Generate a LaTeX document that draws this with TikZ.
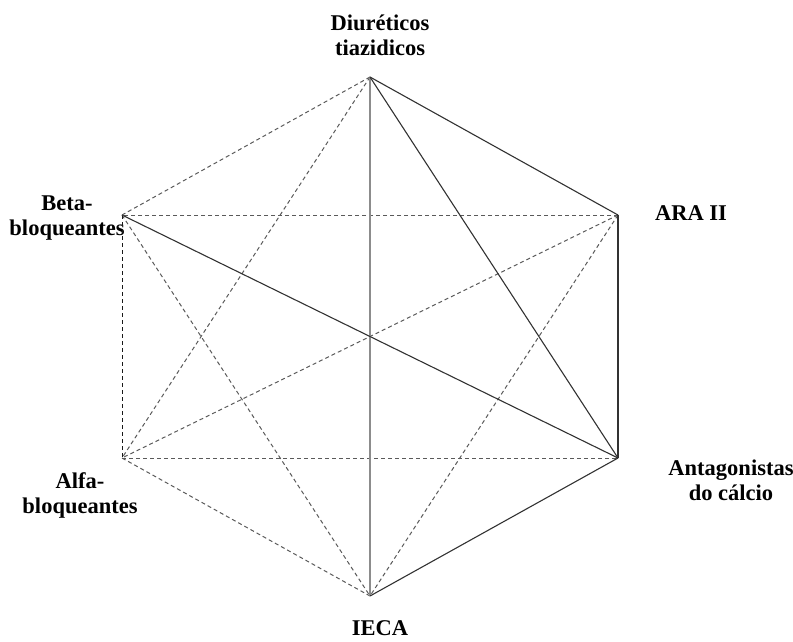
\documentclass[tikz,border=0pt]{standalone}
\usepackage{fontspec}
\setmainfont{Liberation Serif}
\usepackage{tikz}
\definecolor{solidlink}{RGB}{50,50,50}
\definecolor{dashlink}{RGB}{90,90,90}
\definecolor{axislink}{RGB}{140,140,140}
\tikzset{
  drug/.style={font=\fontsize{22.5}{25}\selectfont\bfseries,align=center,inner sep=0pt},
  strong/.style={solidlink,line width=1.1pt},
  weak/.style={dashlink,line width=1pt,dash pattern=on 4pt off 3pt},
}

\begin{document}
\begin{tikzpicture}[x=1pt,y=-1pt]
    \useasboundingbox (0,0) rectangle (793,641);
    % corners of the hexagon
    \coordinate (diu) at (370,77);
    \coordinate (ara) at (618,215);
    \coordinate (antag) at (618,458);
    \coordinate (ieca) at (370,596);
    \coordinate (alfa) at (122,458);
    \coordinate (beta) at (122,215);
    % labels
    \node[drug] (diulab) at (380,35) {Diuréticos\\tiazidicos};
    \node[drug] (aralab) at (691,213) {ARA II};
    \node[drug] (antaglab) at (731,480) {Antagonistas\\do cálcio};
    \node[drug] (iecalab) at (380,628) {IECA};
    \node[drug] (alfalab) at (80,495) {Alfa-\\bloqueantes};
    \node[drug] (betalab) at (67,218) {Beta-\\bloqueantes};
    % dashed links
    \draw[weak] (diu) -- (beta);
    \draw[weak] (diu) -- (alfa);
    \draw[weak] (ara) -- (beta);
    \draw[weak] (ara) -- (alfa);
    \draw[weak] (ara) -- (ieca);
    \draw[weak] (beta) -- (ieca);
    \draw[weak] (alfa) -- (antag);
    \draw[weak] (alfa) -- (ieca);
    \draw[weak,draw=black!90] (beta) -- (alfa);
    % solid links
    \draw[axislink,line width=1.5pt] (diu) -- (ieca);
    \draw[strong] (diu) -- (ara);
    \draw[strong] (diu) -- (antag);
    \draw[strong] (ara) -- (antag);
    \draw[strong] (beta) -- (antag);
    \draw[strong] (antag) -- (ieca);
\end{tikzpicture}
\end{document}
